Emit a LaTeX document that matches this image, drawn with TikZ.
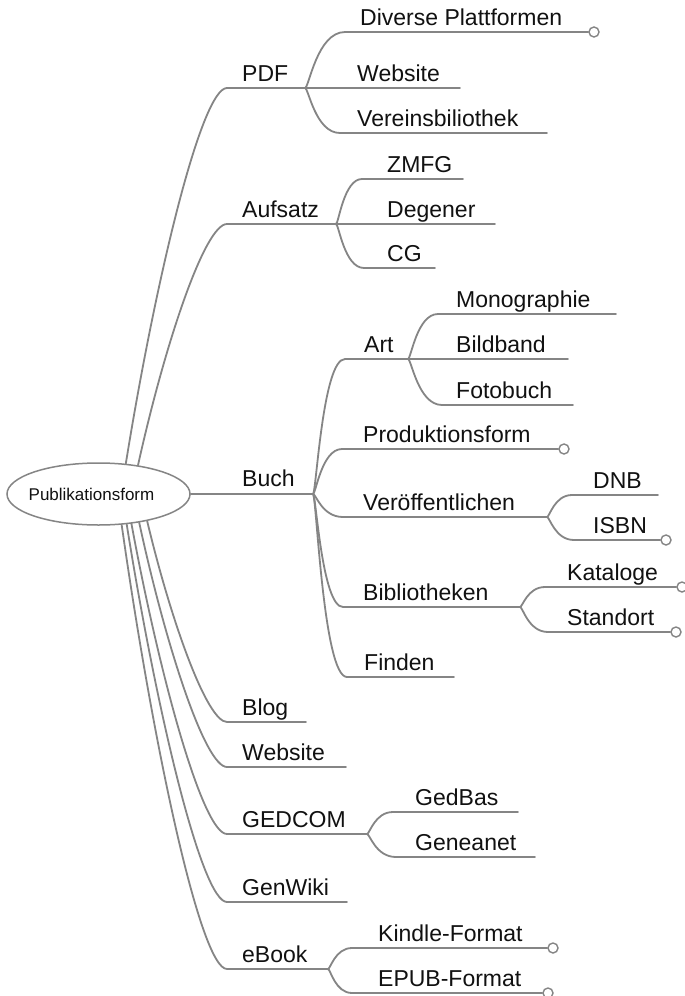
\documentclass[tikz,border=0pt]{standalone}
\usepackage{fontspec}
\setmainfont{Liberation Sans}
\usetikzlibrary{calc,shapes.geometric}
\definecolor{lncol}{HTML}{858585}
\definecolor{txcol}{HTML}{111111}
\tikzset{
  conn/.style={draw=lncol, line width=1.8pt, line cap=round},
  lbl/.style={anchor=base west, inner sep=0pt, text=txcol, font=\fontsize{23}{27}\selectfont},
  mainc/.style={to path={let \p1=(\tikztostart), \p2=(\tikztotarget) in .. controls ({\x1+0.3*(\x2-\x1)},{\y1+0.5*(\y2-\y1)}) and ({\x2-0.25*(\x2-\x1)},{\y2}) .. (\tikztotarget)}},
  subc/.style={to path={let \p1=(\tikztostart), \p2=(\tikztotarget) in .. controls ({\x1+0.1*(\x2-\x1)},{\y1}) and ({\x1+0.3*(\x2-\x1)},{\y2}) .. (\tikztotarget)}},
  knob/.style={circle, draw=lncol, line width=1.4pt, fill=white, minimum size=10pt, inner sep=0pt},
  rootnode/.style={ellipse, draw=lncol, line width=1.5pt, fill=white, minimum width=183pt, minimum height=62pt, inner sep=0pt, text=txcol, font=\fontsize{17}{20}\selectfont},
}
\begin{document}
\begin{tikzpicture}[x=1pt,y=-1pt]
\fill[white] (0,0) rectangle (685,996);
\useasboundingbox (0,0) rectangle (685,996);

% coordinates
\coordinate (pdfS) at (227,88);  \coordinate (pdfF) at (305,88);
\coordinate (aufS) at (227,224); \coordinate (aufF) at (336,224);
\coordinate (buchF) at (313,494);
\coordinate (blogS) at (227,722); \coordinate (blogE) at (306,722);
\coordinate (webS) at (227,767);  \coordinate (webE) at (346,767);
\coordinate (gedS) at (227,834);  \coordinate (gedF) at (367,834);
\coordinate (wikiS) at (227,902); \coordinate (wikiE) at (347,902);
\coordinate (ebS) at (227,969);   \coordinate (ebF) at (328,969);

\coordinate (divS) at (345,32);
\coordinate (pwebE) at (460,88);
\coordinate (verS) at (340,133); \coordinate (verE) at (547,133);

\coordinate (zmS) at (362,179); \coordinate (zmE) at (463,179);
\coordinate (degE) at (495,224);
\coordinate (cgS) at (364,268); \coordinate (cgE) at (435,268);

\coordinate (artS) at (345,359); \coordinate (artF) at (408,359);
\coordinate (prodS) at (342,449);
\coordinate (vroS) at (343,517); \coordinate (vroF) at (547,517);
\coordinate (bibS) at (343,607); \coordinate (bibF) at (520,607);
\coordinate (finS) at (347,677); \coordinate (finE) at (454,677);

\coordinate (monS) at (438,314); \coordinate (monE) at (616,314);
\coordinate (bildE) at (568,359);
\coordinate (fotS) at (442,405); \coordinate (fotE) at (573,405);

\coordinate (dnbS) at (572,495); \coordinate (dnbE) at (658,495);
\coordinate (isbS) at (574,540);
\coordinate (katS) at (545,587);
\coordinate (staS) at (548,632);

\coordinate (gbS) at (393,812); \coordinate (gbE) at (518,812);
\coordinate (gnS) at (396,857); \coordinate (gnE) at (535,857);

\coordinate (kiS) at (352,948);
\coordinate (epS) at (352,993);

% knobs (collapsed markers)
\node[knob] (divK) at (594,32) {};
\node[knob] (prodK) at (564,449) {};
\node[knob] (isbK) at (666,540) {};
\node[knob] (katK) at (682,587) {};
\node[knob] (staK) at (676,632) {};
\node[knob] (kiK) at (553,948) {};
\node[knob] (epK) at (548,993) {};

% root
\node[rootnode] (root) at (98.5,494) {\makebox[0pt]{\hspace*{-14pt}Publikationsform}};

% main branches
\draw[conn] (root.48) to[mainc] (pdfS) -- (pdfF);
\draw[conn] (root.36) to[mainc] (aufS) -- (aufF);
\draw[conn] (root.east) -- (buchF);
\draw[conn] (root.-29) to[mainc] (blogS) -- (blogE);
\draw[conn] (root.-35) to[mainc] (webS) -- (webE);
\draw[conn] (root.-42) to[mainc] (gedS) -- (gedF);
\draw[conn] (root.-47) to[mainc] (wikiS) -- (wikiE);
\draw[conn] (root.-53) to[mainc] (ebS) -- (ebF);

% PDF
\draw[conn] (pdfF) to[subc] (divS) -- (divK.west);
\draw[conn] (pdfF) -- (pwebE);
\draw[conn] (pdfF) to[subc] (verS) -- (verE);
% Aufsatz
\draw[conn] (aufF) to[subc] (zmS) -- (zmE);
\draw[conn] (aufF) -- (degE);
\draw[conn] (aufF) to[subc] (cgS) -- (cgE);
% Buch
\draw[conn] (buchF) to[subc] (artS) -- (artF);
\draw[conn] (buchF) to[subc] (prodS) -- (prodK.west);
\draw[conn] (buchF) to[subc] (vroS) -- (vroF);
\draw[conn] (buchF) to[subc] (bibS) -- (bibF);
\draw[conn] (buchF) to[subc] (finS) -- (finE);
% Art
\draw[conn] (artF) to[subc] (monS) -- (monE);
\draw[conn] (artF) -- (bildE);
\draw[conn] (artF) to[subc] (fotS) -- (fotE);
% Veroeffentlichen
\draw[conn] (vroF) to[subc] (dnbS) -- (dnbE);
\draw[conn] (vroF) to[subc] (isbS) -- (isbK.west);
% Bibliotheken
\draw[conn] (bibF) to[subc] (katS) -- (katK.west);
\draw[conn] (bibF) to[subc] (staS) -- (staK.west);
% GEDCOM
\draw[conn] (gedF) to[subc] (gbS) -- (gbE);
\draw[conn] (gedF) to[subc] (gnS) -- (gnE);
% eBook
\draw[conn] (ebF) to[subc] (kiS) -- (kiK.west);
\draw[conn] (ebF) to[subc] (epS) -- (epK.west);

% labels
\node[lbl] (tdiv) at (360,25) {Diverse Plattformen};
\node[lbl] (tpdf) at (242,81) {PDF};
\node[lbl] (tpweb) at (357,81) {Website};
\node[lbl] (tver) at (357,126) {Vereinsbiliothek};
\node[lbl] (tzm) at (387,172) {ZMFG};
\node[lbl] (tauf) at (242,217) {Aufsatz};
\node[lbl] (tdeg) at (387,217) {Degener};
\node[lbl] (tcg) at (387,261) {CG};
\node[lbl] (tmon) at (456,307) {Monographie};
\node[lbl] (tart) at (364,352) {Art};
\node[lbl] (tbild) at (456,352) {Bildband};
\node[lbl] (tfot) at (456,398) {Fotobuch};
\node[lbl] (tprod) at (363,442) {Produktionsform};
\node[lbl] (tbuch) at (242,486) {Buch};
\node[lbl] (tdnb) at (593,488) {DNB};
\node[lbl] (tvro) at (363,510) {Veröffentlichen};
\node[lbl] (tisb) at (593,533) {ISBN};
\node[lbl] (tkat) at (567,580) {Kataloge};
\node[lbl] (tbib) at (363,600) {Bibliotheken};
\node[lbl] (tsta) at (567,625) {Standort};
\node[lbl] (tfin) at (364,670) {Finden};
\node[lbl] (tblog) at (242,715) {Blog};
\node[lbl] (tweb) at (242,760) {Website};
\node[lbl] (tgb) at (415,805) {GedBas};
\node[lbl] (tged) at (242,827) {GEDCOM};
\node[lbl] (tgn) at (415,850) {Geneanet};
\node[lbl] (twiki) at (242,895) {GenWiki};
\node[lbl] (tki) at (378,941) {Kindle-Format};
\node[lbl] (teb) at (242,962) {eBook};
\node[lbl] (tep) at (378,986) {EPUB-Format};
\end{tikzpicture}
\end{document}
